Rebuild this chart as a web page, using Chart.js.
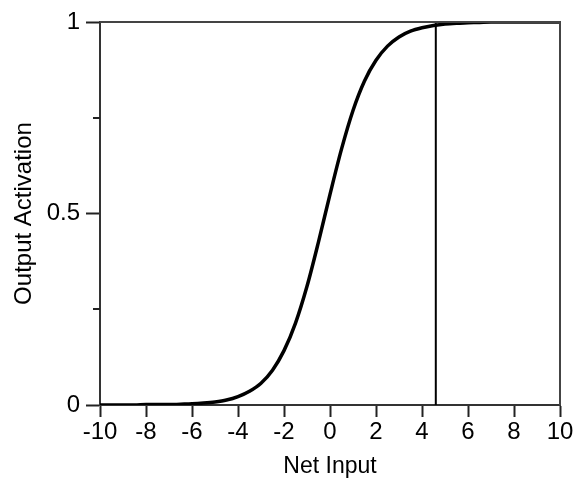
<!DOCTYPE html>
<html>
<head>
<meta charset="utf-8">
<script src="https://cdn.jsdelivr.net/npm/chart.js@4/dist/chart.umd.min.js"></script>
<style>
  html, body { margin: 0; padding: 0; background: #fff; }
  canvas { display: block; }
</style>
</head>
<body>
<canvas id="myChart" width="575" height="481"></canvas>
<script>
// net input values (x) and the read-off output activation (y)
const netInput = [-10, -9.5, -9, -8.5, -8, -7.5, -7, -6.5, -6, -5.5, -5, -4.5, -4, -3.5, -3, -2.5, -2, -1.5, -1, -0.5,
  0, 0.5, 1, 1.5, 2, 2.5, 3, 3.5, 4, 4.5, 5, 5.5, 6, 6.5, 7, 7.5, 8, 8.5, 9, 9.5, 10];
const activation = [0.000, 0.000, 0.000, 0.000, 0.001, 0.001, 0.001, 0.002, 0.003, 0.005, 0.008, 0.013, 0.022, 0.036, 0.057, 0.091, 0.142, 0.214, 0.310, 0.426,
  0.550, 0.668, 0.769, 0.846, 0.900, 0.937, 0.961, 0.976, 0.985, 0.991, 0.995, 0.997, 0.998, 0.999, 1.000, 1.000, 1.000, 1.000, 1.000, 1.000, 1.000];
const thresholdX = 4.6;
const xTicks = [-10, -8, -6, -4, -2, 0, 2, 4, 6, 8, 10];
const yTicks = [0, 0.5, 1];
const yMinorTicks = [0.25, 0.75];

const FONT = "'Liberation Sans', Arial, sans-serif";

const framePlugin = {
  id: "frame",
  afterDraw(chart) {
    const { ctx, chartArea: a, scales } = chart;
    ctx.save();
    ctx.strokeStyle = "#444";
    ctx.lineWidth = 2;
    ctx.beginPath();
    ctx.moveTo(a.left, a.top);
    ctx.lineTo(a.right, a.top);
    ctx.lineTo(a.right, a.bottom);
    ctx.stroke();
    // short minor ticks on the y axis
    ctx.strokeStyle = "#222";
    yMinorTicks.forEach(v => {
      const y = Math.round(scales.y.getPixelForValue(v));
      ctx.beginPath();
      ctx.moveTo(a.left - 7, y);
      ctx.lineTo(a.left, y);
      ctx.stroke();
    });
    ctx.restore();
  }
};

new Chart(document.getElementById("myChart"), {
  type: "line",
  data: {
    datasets: [
      {
        data: netInput.map((x, i) => ({ x: x, y: activation[i] })),
        borderColor: "#000",
        borderWidth: 3.5,
        pointRadius: 0,
        cubicInterpolationMode: "monotone",
        fill: false
      },
      {
        data: [{ x: thresholdX, y: 0 }, { x: thresholdX, y: 1 }],
        borderColor: "#000",
        borderWidth: 2,
        pointRadius: 0,
        fill: false
      }
    ]
  },
  options: {
    responsive: false,
    animation: false,
    layout: { padding: { top: 22, right: 15, left: 0, bottom: 0 } },
    plugins: { legend: { display: false }, tooltip: { enabled: false } },
    scales: {
      x: {
        type: "linear",
        min: -10,
        max: 10,
        afterBuildTicks: s => { s.ticks = xTicks.map(v => ({ value: v })); },
        afterFit: s => { s.height = 76; },
        grid: { drawOnChartArea: false, tickLength: 12, tickColor: "#222", tickWidth: 2 },
        border: { color: "#333", width: 2 },
        ticks: { color: "#000", font: { family: FONT, size: 24 }, padding: 1, maxRotation: 0 },
        title: { display: true, text: "Net Input", color: "#000", font: { family: FONT, size: 23 }, padding: { top: 0, bottom: 1 } }
      },
      y: {
        type: "linear",
        min: 0,
        max: 1,
        afterBuildTicks: s => { s.ticks = yTicks.map(v => ({ value: v })); },
        afterFit: s => { s.width = 100; },
        grid: { drawOnChartArea: false, tickLength: 14, tickColor: "#222", tickWidth: 2 },
        border: { color: "#333", width: 2 },
        ticks: { color: "#000", font: { family: FONT, size: 24 }, padding: 6, callback: v => String(v) },
        title: { display: true, text: "Output Activation", color: "#000", font: { family: FONT, size: 24 }, padding: { top: 10, bottom: 0 } }
      }
    }
  },
  plugins: [framePlugin]
});
</script>
</body>
</html>
